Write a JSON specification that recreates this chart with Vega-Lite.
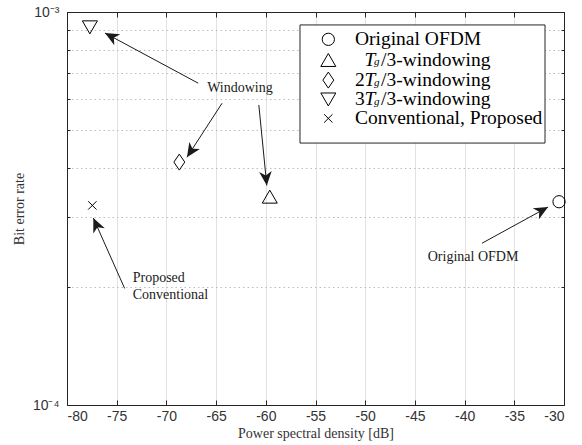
{
  "$schema": "https://vega.github.io/schema/vega-lite/v6.json",
  "width": 497,
  "height": 393,
  "autosize": {"type": "none"},
  "padding": {"left": 67, "top": 12, "right": 18, "bottom": 40},
  "background": "white",
  "config": {
    "view": {"stroke": "#262626", "strokeWidth": 1},
    "axis": {
      "labelFont": "Liberation Sans",
      "labelFontSize": 14,
      "labelColor": "#333333",
      "titleFont": "Liberation Serif",
      "titleFontSize": 14,
      "titleFontWeight": "normal",
      "titleColor": "#333333",
      "domainColor": "#262626",
      "tickColor": "#262626"
    },
    "text": {"font": "Liberation Serif", "color": "#1a1a1a"}
  },
  "datasets": {
    "results": [
      {"psd": -30.5, "ber": 0.000329, "series": "Original OFDM"},
      {"psd": -59.6, "ber": 0.000339, "series": "Tg/3-windowing"},
      {"psd": -68.7, "ber": 0.000415, "series": "2Tg/3-windowing"},
      {"psd": -77.7, "ber": 0.000914, "series": "3Tg/3-windowing"},
      {"psd": -77.45, "ber": 0.000322, "series": "Conventional, Proposed"}
    ],
    "arrows": [
      {"x1": -66.8, "y1": 0.000659, "x2": -76.18, "y2": 0.000884},
      {"x1": -64.4, "y1": 0.000586, "x2": -67.93, "y2": 0.000427},
      {"x1": -60.7, "y1": 0.00058, "x2": -59.9, "y2": 0.000362},
      {"x1": -74.2, "y1": 0.000198, "x2": -77.35, "y2": 0.000299},
      {"x1": -38.25, "y1": 0.000258, "x2": -31.6, "y2": 0.000319}
    ],
    "notesCentered": [
      {"psd": -62.6, "ber": 0.00064, "label": "Windowing"},
      {"psd": -39.15, "ber": 0.000238, "label": "Original OFDM"}
    ],
    "notesLeft": [
      {"psd": -73.39, "ber": 0.00021, "label": "Proposed"},
      {"psd": -73.39, "ber": 0.00019, "label": "Conventional"}
    ],
    "legendBox": [
      {"x1": -56.56, "x2": -31.91, "y1": 0.000464, "y2": 0.000927}
    ],
    "legendSymbols": [
      {"psd": -53.71, "ber": 0.000852, "series": "Original OFDM"},
      {"psd": -53.71, "ber": 0.000755, "series": "Tg/3-windowing"},
      {"psd": -53.71, "ber": 0.000671, "series": "2Tg/3-windowing"},
      {"psd": -53.71, "ber": 0.000599, "series": "3Tg/3-windowing"},
      {"psd": -53.71, "ber": 0.000536, "series": "Conventional, Proposed"}
    ],
    "legendRoman": [
      {"psd": -51.03, "ber": 0.000852, "t": "Original OFDM"},
      {"psd": -51.03, "ber": 0.000671, "t": "2"},
      {"psd": -51.03, "ber": 0.000599, "t": "3"},
      {"psd": -48.41, "ber": 0.000755, "t": "/3-windowing"},
      {"psd": -48.41, "ber": 0.000671, "t": "/3-windowing"},
      {"psd": -48.41, "ber": 0.000599, "t": "/3-windowing"},
      {"psd": -51.03, "ber": 0.000536, "t": "Conventional, Proposed"}
    ],
    "legendItalicT": [
      {"psd": -50.07, "ber": 0.000755, "t": "T"},
      {"psd": -50.07, "ber": 0.000671, "t": "T"},
      {"psd": -50.07, "ber": 0.000599, "t": "T"}
    ],
    "legendItalicSub": [
      {"psd": -49.115, "ber": 0.000755, "t": "g"},
      {"psd": -49.115, "ber": 0.000671, "t": "g"},
      {"psd": -49.115, "ber": 0.000599, "t": "g"}
    ]
  },
  "layer": [
    {
      "data": {"name": "results"},
      "mark": {"type": "point", "opacity": 0},
      "encoding": {
        "x": {
          "field": "psd", "type": "quantitative",
          "scale": {"domain": [-80, -30], "nice": false, "zero": false},
          "axis": {
            "orient": "bottom",
            "values": [-80, -75, -70, -65, -60, -55, -50, -45, -40, -35, -30],
            "labelExpr": "'' + datum.value",
            "grid": true, "gridColor": "#e2e2e2", "gridWidth": 1,
            "tickSize": -5, "labelPadding": 9,
            "title": "Power spectral density [dB]", "titlePadding": 3
          }
        },
        "y": {
          "field": "ber", "type": "quantitative",
          "scale": {"type": "log", "domain": [0.0001, 0.001], "nice": false},
          "axis": {
            "orient": "left",
            "values": [0.0001, 0.0002, 0.0003, 0.0004, 0.0005, 0.0006, 0.0007, 0.0008, 0.0009, 0.001],
            "labelExpr": "abs(log(datum.value) / LN10 + 3) < 0.01 ? '10⁻³' : (abs(log(datum.value) / LN10 + 4) < 0.01 ? '10⁻⁴' : '')",
            "grid": true, "gridColor": "#bdbdbd", "gridDash": [1.5, 3], "gridWidth": 1,
            "tickSize": -3, "labelPadding": 11,
            "title": "Bit error rate", "titlePadding": 6
          }
        }
      }
    },
    {
      "data": {"name": "results"},
      "mark": {"type": "point", "opacity": 0},
      "encoding": {
        "x": {
          "field": "psd", "type": "quantitative",
          "scale": {"domain": [-80, -30], "nice": false, "zero": false},
          "axis": {
            "orient": "top",
            "values": [-80, -75, -70, -65, -60, -55, -50, -45, -40, -35, -30],
            "labels": false, "grid": false, "tickSize": -5, "title": null
          }
        },
        "y": {
          "field": "ber", "type": "quantitative",
          "scale": {"type": "log", "domain": [0.0001, 0.001], "nice": false},
          "axis": {
            "orient": "right",
            "values": [0.0001, 0.0002, 0.0003, 0.0004, 0.0005, 0.0006, 0.0007, 0.0008, 0.0009, 0.001],
            "labels": false, "grid": false, "tickSize": -3, "title": null
          }
        }
      }
    },
    {
      "data": {"name": "arrows"},
      "mark": {"type": "rule", "color": "#1a1a1a", "strokeWidth": 1},
      "encoding": {
        "x": {"field": "x1", "type": "quantitative", "scale": {"domain": [-80, -30], "nice": false, "zero": false}, "axis": null},
        "y": {"field": "y1", "type": "quantitative", "scale": {"type": "log", "domain": [0.0001, 0.001], "nice": false}, "axis": null},
        "x2": {"field": "x2"},
        "y2": {"field": "y2"}
      }
    },
    {
      "data": {"name": "arrows"},
      "transform": [
        {"calculate": "(datum.x2 - datum.x1) * 497 / 50", "as": "dxp"},
        {"calculate": "-(log(datum.y2) - log(datum.y1)) / LN10 * 393", "as": "dyp"},
        {"calculate": "atan2(datum.dxp, -datum.dyp) * 180 / PI", "as": "heading"}
      ],
      "mark": {
        "type": "point", "filled": true, "color": "#1a1a1a", "opacity": 1,
        "shape": "M0,0L0.45,1L0,0.72L-0.45,1Z", "size": 784, "strokeWidth": 0
      },
      "encoding": {
        "x": {"field": "x2", "type": "quantitative", "scale": {"domain": [-80, -30], "nice": false, "zero": false}, "axis": null},
        "y": {"field": "y2", "type": "quantitative", "scale": {"type": "log", "domain": [0.0001, 0.001], "nice": false}, "axis": null},
        "angle": {"field": "heading", "type": "quantitative", "scale": null}
      }
    },
    {
      "data": {"name": "notesCentered"},
      "mark": {"type": "text", "fontSize": 14, "align": "center", "baseline": "middle"},
      "encoding": {
        "x": {"field": "psd", "type": "quantitative", "scale": {"domain": [-80, -30], "nice": false, "zero": false}, "axis": null},
        "y": {"field": "ber", "type": "quantitative", "scale": {"type": "log", "domain": [0.0001, 0.001], "nice": false}, "axis": null},
        "text": {"field": "label"}
      }
    },
    {
      "data": {"name": "notesLeft"},
      "mark": {"type": "text", "fontSize": 14, "align": "left", "baseline": "middle"},
      "encoding": {
        "x": {"field": "psd", "type": "quantitative", "scale": {"domain": [-80, -30], "nice": false, "zero": false}, "axis": null},
        "y": {"field": "ber", "type": "quantitative", "scale": {"type": "log", "domain": [0.0001, 0.001], "nice": false}, "axis": null},
        "text": {"field": "label"}
      }
    },
    {
      "data": {"name": "legendBox"},
      "mark": {"type": "rect", "fill": "white", "stroke": "#262626", "strokeWidth": 1},
      "encoding": {
        "x": {"field": "x1", "type": "quantitative", "scale": {"domain": [-80, -30], "nice": false, "zero": false}, "axis": null},
        "x2": {"field": "x2"},
        "y": {"field": "y1", "type": "quantitative", "scale": {"type": "log", "domain": [0.0001, 0.001], "nice": false}, "axis": null},
        "y2": {"field": "y2"}
      }
    },
    {
      "data": {"name": "legendRoman"},
      "mark": {"type": "text", "fontSize": 19.5, "align": "left", "baseline": "middle", "color": "#000000"},
      "encoding": {
        "x": {"field": "psd", "type": "quantitative", "scale": {"domain": [-80, -30], "nice": false, "zero": false}, "axis": null},
        "y": {"field": "ber", "type": "quantitative", "scale": {"type": "log", "domain": [0.0001, 0.001], "nice": false}, "axis": null},
        "text": {"field": "t"}
      }
    },
    {
      "data": {"name": "legendItalicT"},
      "mark": {"type": "text", "fontSize": 19.5, "fontStyle": "italic", "align": "left", "baseline": "middle", "color": "#000000"},
      "encoding": {
        "x": {"field": "psd", "type": "quantitative", "scale": {"domain": [-80, -30], "nice": false, "zero": false}, "axis": null},
        "y": {"field": "ber", "type": "quantitative", "scale": {"type": "log", "domain": [0.0001, 0.001], "nice": false}, "axis": null},
        "text": {"field": "t"}
      }
    },
    {
      "data": {"name": "legendItalicSub"},
      "mark": {"type": "text", "fontSize": 11, "fontStyle": "italic", "align": "left", "baseline": "middle", "dy": 2.5, "color": "#000000"},
      "encoding": {
        "x": {"field": "psd", "type": "quantitative", "scale": {"domain": [-80, -30], "nice": false, "zero": false}, "axis": null},
        "y": {"field": "ber", "type": "quantitative", "scale": {"type": "log", "domain": [0.0001, 0.001], "nice": false}, "axis": null},
        "text": {"field": "t"}
      }
    },
    {
      "data": {"name": "legendSymbols"},
      "mark": {"type": "point", "filled": false, "color": "#000000", "strokeWidth": 1, "opacity": 1},
      "encoding": {
        "x": {"field": "psd", "type": "quantitative", "scale": {"domain": [-80, -30], "nice": false, "zero": false}, "axis": null},
        "y": {"field": "ber", "type": "quantitative", "scale": {"type": "log", "domain": [0.0001, 0.001], "nice": false}, "axis": null},
        "shape": {
          "field": "series", "type": "nominal", "legend": null,
          "scale": {
            "type": "ordinal",
            "domain": ["Original OFDM", "Tg/3-windowing", "2Tg/3-windowing", "3Tg/3-windowing", "Conventional, Proposed"],
            "range": ["circle", "triangle-up", "M0,-1L0.68,0L0,1L-0.68,0Z", "triangle-down", "M-1,-1L1,1M1,-1L-1,1"]
          }
        },
        "size": {
          "field": "series", "type": "nominal", "legend": null,
          "scale": {
            "type": "ordinal",
            "domain": ["Original OFDM", "Tg/3-windowing", "2Tg/3-windowing", "3Tg/3-windowing", "Conventional, Proposed"],
            "range": [150, 225, 256, 225, 70]
          }
        }
      }
    },
    {
      "data": {"name": "results"},
      "mark": {"type": "point", "filled": false, "color": "#000000", "strokeWidth": 1, "opacity": 1},
      "encoding": {
        "x": {"field": "psd", "type": "quantitative", "scale": {"domain": [-80, -30], "nice": false, "zero": false}, "axis": null},
        "y": {"field": "ber", "type": "quantitative", "scale": {"type": "log", "domain": [0.0001, 0.001], "nice": false}, "axis": null},
        "shape": {
          "field": "series", "type": "nominal", "legend": null,
          "scale": {
            "type": "ordinal",
            "domain": ["Original OFDM", "Tg/3-windowing", "2Tg/3-windowing", "3Tg/3-windowing", "Conventional, Proposed"],
            "range": ["circle", "triangle-up", "M0,-1L0.68,0L0,1L-0.68,0Z", "triangle-down", "M-1,-1L1,1M1,-1L-1,1"]
          }
        },
        "size": {
          "field": "series", "type": "nominal", "legend": null,
          "scale": {
            "type": "ordinal",
            "domain": ["Original OFDM", "Tg/3-windowing", "2Tg/3-windowing", "3Tg/3-windowing", "Conventional, Proposed"],
            "range": [150, 225, 256, 225, 70]
          }
        }
      }
    }
  ],
  "resolve": {"axis": {"x": "independent", "y": "independent"}}
}
